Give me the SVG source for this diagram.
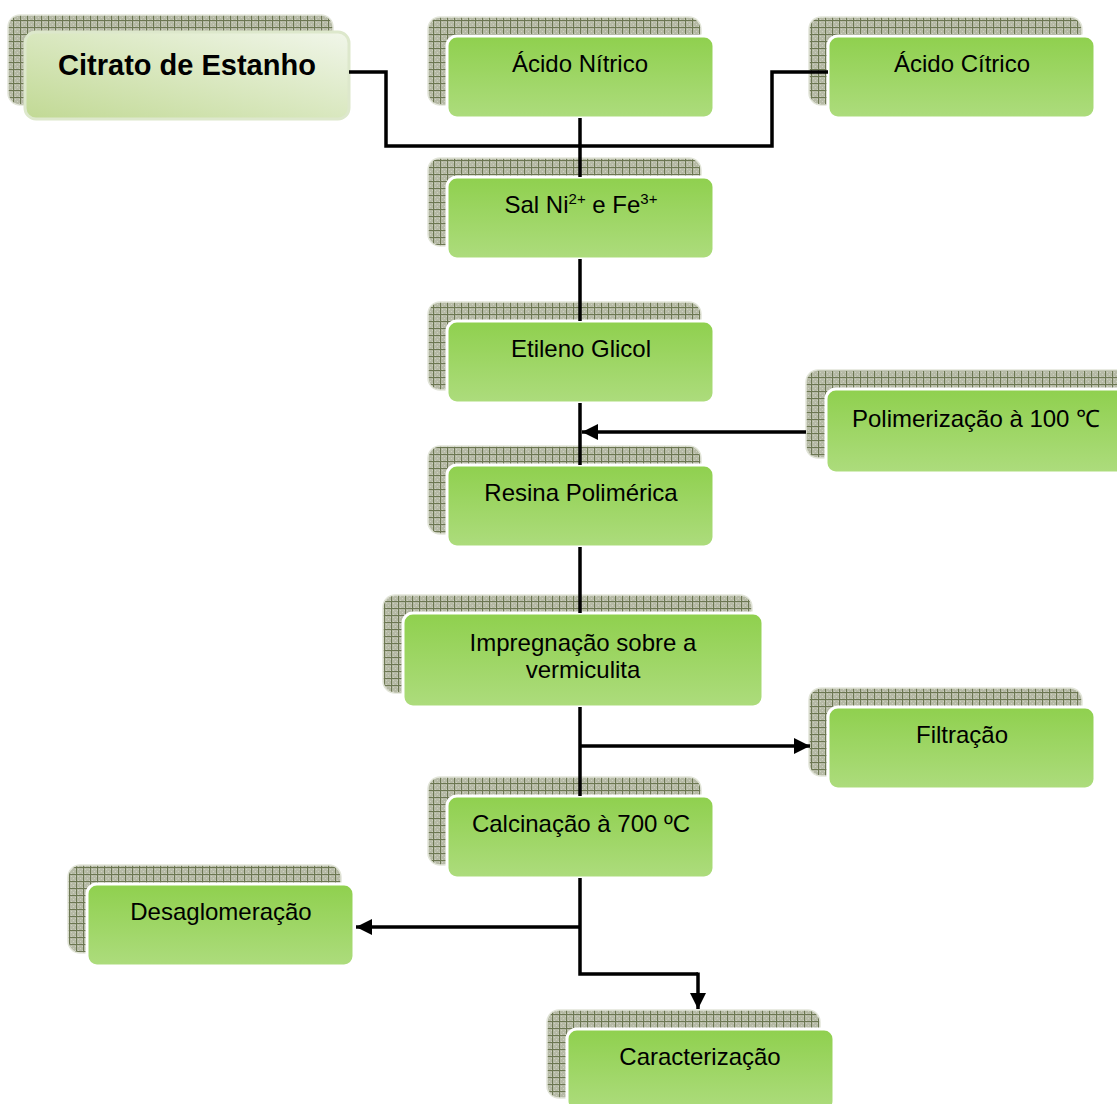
<svg xmlns="http://www.w3.org/2000/svg" width="1117" height="1104" viewBox="0 0 1117 1104">
<defs>
<pattern id="hatch" width="7" height="7" patternUnits="userSpaceOnUse">
<rect width="7" height="7" fill="#b6baa6"/>
<rect x="1" y="1" width="1" height="1" fill="#cdd0c0"/>
<rect x="3" y="3" width="1" height="1" fill="#cdd0c0"/>
<rect x="5" y="1" width="1" height="1" fill="#cdd0c0"/>
<rect x="1" y="5" width="1" height="1" fill="#cdd0c0"/>
<rect x="5" y="5" width="1" height="1" fill="#cdd0c0"/>
<rect x="0" y="6" width="7" height="1" fill="#6c7752"/>
<rect x="6" y="0" width="1" height="7" fill="#6c7752"/>
</pattern>
<linearGradient id="green" x1="0" y1="0" x2="0" y2="1">
<stop offset="0" stop-color="#8fd04e"/>
<stop offset="1" stop-color="#addc7d"/>
</linearGradient>
<linearGradient id="light" x1="0" y1="1" x2="1" y2="0">
<stop offset="0" stop-color="#c1d994"/>
<stop offset="1" stop-color="#f1f6ea"/>
</linearGradient>
<marker id="arrow" markerUnits="userSpaceOnUse" markerWidth="18" markerHeight="18" viewBox="0 0 18 18" refX="16" refY="9" orient="auto">
<path d="M0,1 L16,9 L0,17 Z" fill="#000"/>
</marker>
</defs>
<style>
.sh{fill:url(#hatch);stroke:#e2e5d9;stroke-width:1.5}
.bx{fill:url(#green);stroke:#fff;stroke-width:3}
.bl{fill:url(#light);stroke:#dde8cc;stroke-width:3}
.t{font-family:"Liberation Sans",Arial,sans-serif;font-size:24px;fill:#000;text-anchor:middle}
.tb{font-family:"Liberation Sans",Arial,sans-serif;font-size:29px;font-weight:bold;fill:#000;text-anchor:middle}
.ln{fill:none;stroke:#000;stroke-width:3.5}
.ar{fill:none;stroke:#000;stroke-width:3.5;marker-end:url(#arrow)}
</style>
<rect width="1117" height="1104" fill="#fff"/>

<g id="citrato">
<rect class="sh" x="8" y="15" width="325" height="90" rx="12"/>
<rect class="bl" x="25" y="32" width="324" height="87" rx="11"/>
<text class="tb" x="187" y="75">Citrato de Estanho</text>
</g>

<g id="acido-nitrico">
<rect class="sh" x="428" y="17" width="273" height="88" rx="12"/>
<rect class="bx" x="447" y="36" width="267" height="82" rx="10"/>
<text class="t" x="580" y="72">Ácido Nítrico</text>
</g>

<g id="acido-citrico">
<rect class="sh" x="809" y="17" width="273" height="88" rx="12"/>
<rect class="bx" x="828" y="36" width="267" height="82" rx="10"/>
<text class="t" x="962" y="72">Ácido Cítrico</text>
</g>

<g id="sal">
<rect class="sh" x="428" y="158" width="273" height="88" rx="12"/>
<rect class="bx" x="447" y="177" width="267" height="82" rx="10"/>
<text class="t" x="581" y="213">Sal Ni<tspan font-size="15" dy="-9">2+</tspan><tspan dy="9"> e Fe</tspan><tspan font-size="15" dy="-9">3+</tspan></text>
</g>

<g id="etileno">
<rect class="sh" x="428" y="302" width="273" height="88" rx="12"/>
<rect class="bx" x="447" y="321" width="267" height="82" rx="10"/>
<text class="t" x="581" y="357">Etileno Glicol</text>
</g>

<g id="polimerizacao">
<rect class="sh" x="806" y="370" width="330" height="88" rx="12"/>
<rect class="bx" x="826" y="389" width="320" height="84" rx="10"/>
<text class="t" x="852" y="427" style="text-anchor:start">Polimerização à 100 ℃</text>
</g>

<g id="resina">
<rect class="sh" x="428" y="446" width="273" height="88" rx="12"/>
<rect class="bx" x="447" y="465" width="267" height="82" rx="10"/>
<text class="t" x="581" y="501">Resina Polimérica</text>
</g>

<g id="impregnacao">
<rect class="sh" x="383" y="595" width="369" height="98" rx="12"/>
<rect class="bx" x="403" y="613" width="360" height="94" rx="10"/>
<text class="t" x="583" y="651">Impregnação sobre a</text>
<text class="t" x="583" y="678">vermiculita</text>
</g>

<g id="filtracao">
<rect class="sh" x="809" y="688" width="273" height="88" rx="12"/>
<rect class="bx" x="828" y="707" width="267" height="82" rx="10"/>
<text class="t" x="962" y="743">Filtração</text>
</g>

<g id="calcinacao">
<rect class="sh" x="428" y="777" width="273" height="88" rx="12"/>
<rect class="bx" x="447" y="796" width="267" height="82" rx="10"/>
<text class="t" x="581" y="832">Calcinação à 700 ºC</text>
</g>

<g id="desaglomeracao">
<rect class="sh" x="68" y="865" width="273" height="88" rx="12"/>
<rect class="bx" x="87" y="884" width="267" height="82" rx="10"/>
<text class="t" x="221" y="920">Desaglomeração</text>
</g>

<g id="caracterizacao">
<rect class="sh" x="547" y="1010" width="273" height="88" rx="12"/>
<rect class="bx" x="567" y="1029" width="267" height="82" rx="10"/>
<text class="t" x="700" y="1065">Caracterização</text>
</g>

<g id="connectors">
<path class="ln" d="M349,72 H386 V146 H772 V72 H828"/>
<path class="ln" d="M580,118 V177"/>
<path class="ln" d="M580,259 V321"/>
<path class="ln" d="M580,403 V465"/>
<path class="ar" d="M806,432 H582"/>
<path class="ln" d="M580,547 V613"/>
<path class="ln" d="M580,707 V796"/>
<path class="ar" d="M580,746 H810"/>
<path class="ln" d="M580,878 V974 H698"/>
<path class="ar" d="M580,927 H356"/>
<path class="ar" d="M698,972.5 V1009"/>
</g>
</svg>
